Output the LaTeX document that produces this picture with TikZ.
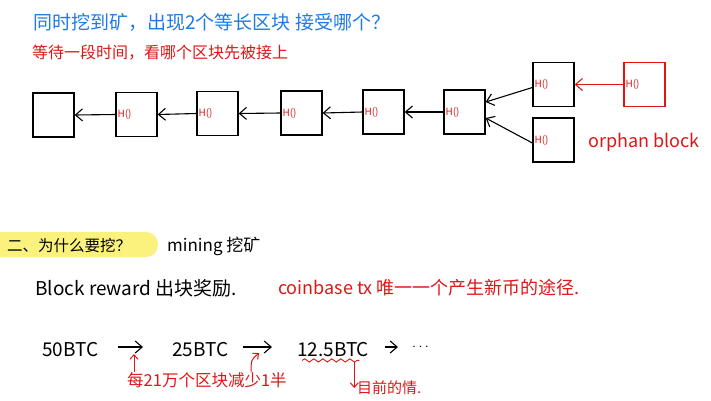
\documentclass[tikz,border=0pt]{standalone}
\usepackage{fontspec}
\newfontfamily\cjk{Noto Sans CJK SC}
\usepackage{xcolor}
\definecolor{noteBlue}{HTML}{1E7BE6}
\definecolor{noteRed}{HTML}{DD1616}
\definecolor{markYellow}{HTML}{FAF27C}
\newcommand\hsz[1]{\fontsize{#1}{#1}\selectfont}
\usepackage{tikz}
\usetikzlibrary{positioning,arrows.meta,decorations.pathmorphing,calc}

\begin{document}
\begin{tikzpicture}[x=1pt, y=-1pt,
    every node/.style={font=\cjk, inner sep=0pt},
    blk/.style={draw, line width=1.3pt, minimum width=41pt, minimum height=44pt,
                text width=38pt, inner xsep=1.5pt, align=left,
                text=noteRed, font=\cjk\hsz{10}},
    txt/.style={anchor=west, font=\cjk\hsz{17}},
    note/.style={anchor=west, text=noteRed, font=\cjk\hsz{16}},
    coin/.style={anchor=west, font=\cjk\hsz{19}},
    arr/.style={-{Straight Barb[length=7pt, width=12pt, line width=1.1pt]}, line width=1.1pt},
    redarr/.style={arr, draw=noteRed},
    tick/.style={-{Straight Barb[length=4.5pt, width=8pt, line width=1pt]}, draw=noteRed, line width=1pt}]
  \useasboundingbox (0,0) rectangle (711,400);
  % question
  \node[anchor=west, text=noteBlue, font=\cjk\hsz{19}] (q) at (33,22) {同时挖到矿，出现2个等长区块 接受哪个？};
  \node[note] (wait) at (32,53) {等待一段时间，看哪个区块先被接上};
  % chain
  \node[blk] (g)  at (53.5,115)   {};
  \node[blk] (b1) at (136.5,114.5) {H()};
  \node[blk] (b2) at (217.5,113.5) {H()};
  \node[blk] (b3) at (301.5,113)   {H()};
  \node[blk] (b4) at (383.5,112)   {H()};
  \node[blk] (b5) at (464.5,112)   {H()};
  \node[blk] (bt) at (553.5,84.5)  {H()};
  \node[blk] (bb) at (553.5,140)   {H()};
  \node[blk, draw=noteRed] (br) at (644.5,84.5) {H()};
  \node[anchor=west, text=noteRed, font=\cjk\hsz{18}] (orph) at (588,142) {orphan block};
  \draw[arr] (b1.west) -- (g.east);
  \draw[arr] (b2.west) -- (b1.east);
  \draw[arr] (b3.west) -- (b2.east);
  \draw[arr] (b4.west) -- (b3.east);
  \draw[arr] (b5.west) -- (b4.east);
  \draw[arr] ([yshift=-3pt]bt.west) -- ([yshift=10pt]b5.east);
  \draw[arr] ([yshift=-3pt]bb.west) -- ([yshift=-6pt]b5.east);
  \draw[redarr] (br.west) -- (bt.east);
  % why mine
  \fill[markYellow] (0,232) [rounded corners=12pt] -- (158,232) -- (158,257) [sharp corners] -- (0,257) -- cycle;
  \node[txt, font=\cjk\hsz{15.5}] (why) at (7,246) {二、为什么要挖？};
  \node[txt] (mine) at (167,246) {mining 挖矿};
  \node[txt, font=\cjk\hsz{19}] (rew) at (35,288) {Block reward 出块奖励.};
  \node[note, font=\cjk\hsz{18}] (cb) at (278,288) {coinbase tx 唯一一个产生新币的途径.};
  % halving
  \node[coin] (c50)  at (42,350)  {50BTC};
  \node[coin] (c25)  at (172,350) {25BTC};
  \node[coin] (c125) at (297,350) {12.5BTC};
  \node[anchor=west, font=\hsz{15}] (cdots) at (412,347) {$\cdots$};
  \draw[arr, shorten <=20pt, shorten >=29pt] ([yshift=3pt]c50.east) -- ([yshift=3pt]c25.west);
  \draw[arr, shorten <=15pt, shorten >=25pt] ([yshift=3pt]c25.east) -- ([yshift=3pt]c125.west);
  \draw[arr, shorten <=16pt, shorten >=14pt] ([yshift=3pt]c125.east) -- (cdots.west);
  \node[note, font=\cjk\hsz{16.5}] (half) at (127,380) {每21万个区块减少1半};
  \coordinate (p1) at (134,354);
  \coordinate (p2) at (259,353);
  \draw[tick] ([xshift=7pt]half.north west) -- (p1);
  \draw[tick] ([xshift=124pt]half.north west) .. controls (251,360) .. (p2);
  \draw[noteRed, line width=0.9pt, decorate, decoration={snake, amplitude=1.6pt, segment length=9pt}]
    ([xshift=5pt, yshift=-3pt]c125.south west) -- ([xshift=-10pt, yshift=-3pt]c125.south east);
  \node[note, font=\cjk\hsz{15}] (now) at (357,388) {目前的情.};
  \coordinate (w) at ([xshift=-15pt, yshift=-5pt]c125.south east);
  \draw[tick] (w) -- (w |- now.west);
\end{tikzpicture}
\end{document}
